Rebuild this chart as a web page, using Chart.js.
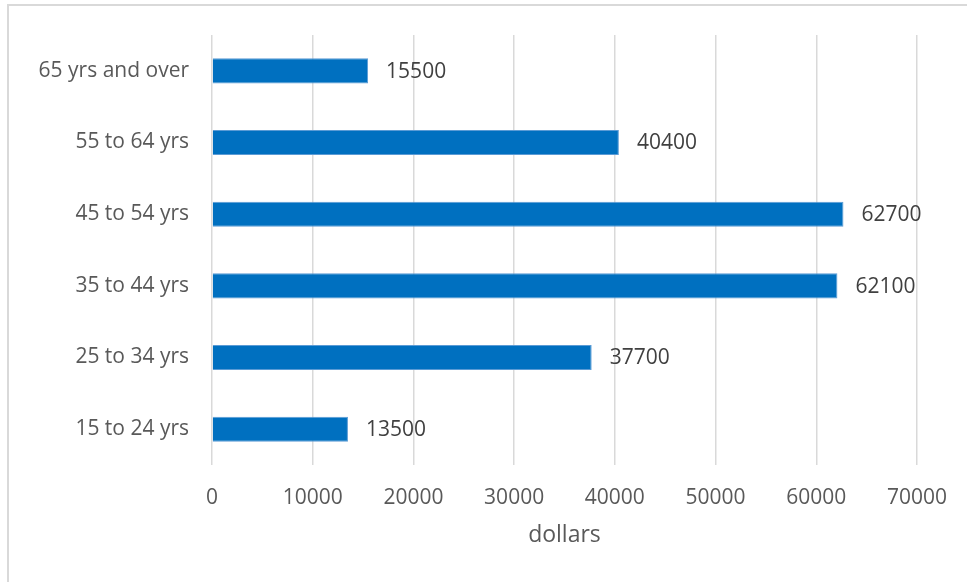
<!DOCTYPE html>
<html>
<head>
<meta charset="utf-8">
<script src="https://cdn.jsdelivr.net/npm/chart.js@4"></script>
<style>
  html, body { margin: 0; padding: 0; background: #fff; overflow: hidden; }
  #wrap { position: relative; width: 967px; height: 582px; }
  #frame {
    position: absolute; left: 7px; top: 4px; width: 1000px; height: 620px;
    border: 2px solid #d9d9d9; box-sizing: border-box; pointer-events: none;
  }
  canvas { position: absolute; left: 0; top: 0; }
</style>
</head>
<body>
<div id="wrap">
  <canvas id="earnings" width="967" height="582"></canvas>
  <div id="frame"></div>
</div>
<script>
// median earnings by age group, in dollars (top row first)
const ageGroups = ['65 yrs and over', '55 to 64 yrs', '45 to 54 yrs', '35 to 44 yrs', '25 to 34 yrs', '15 to 24 yrs'];
const earnings = [15500, 40400, 62700, 62100, 37700, 13500];
const xTicks = [0, 10000, 20000, 30000, 40000, 50000, 60000, 70000];

const FONT = "'Open Sans', 'Liberation Sans', sans-serif";

// writes each bar's value just past its end
const valueLabels = {
  id: 'valueLabels',
  afterDatasetsDraw(chart) {
    const ctx = chart.ctx;
    const meta = chart.getDatasetMeta(0);
    ctx.save();
    ctx.font = '21px ' + FONT;
    ctx.fillStyle = '#404040';
    ctx.textAlign = 'left';
    ctx.textBaseline = 'middle';
    meta.data.forEach((bar, i) => {
      ctx.fillText(String(earnings[i]), bar.x + 18, bar.y + 1);
    });
    ctx.restore();
  }
};

new Chart(document.getElementById('earnings'), {
  type: 'bar',
  data: {
    labels: ageGroups,
    datasets: [{
      data: earnings,
      backgroundColor: '#0070c0',
      borderColor: '#5b9bd5',
      borderWidth: 1,
      categoryPercentage: 1,
      barPercentage: 0.35
    }]
  },
  options: {
    indexAxis: 'y',
    responsive: false,
    animation: false,
    layout: { padding: { left: 0, right: 48, top: 35, bottom: 0 } },
    plugins: { legend: { display: false }, tooltip: { enabled: false } },
    scales: {
      x: {
        min: 0,
        max: 70000,
        afterBuildTicks(scale) { scale.ticks = xTicks.map(v => ({ value: v })); },
        afterFit(scale) { scale.height = 117; },
        grid: { color: '#d9d9d9', lineWidth: 1.5, drawTicks: false },
        border: { display: false },
        ticks: {
          padding: 20,
          color: '#595959',
          font: { family: FONT, size: 21 },
          maxRotation: 0,
          callback: v => String(v)
        },
        title: {
          display: true,
          text: 'dollars',
          color: '#595959',
          font: { family: FONT, size: 23 },
          padding: { top: 0, bottom: 33 }
        }
      },
      y: {
        afterFit(scale) { scale.width = 212; },
        grid: { display: false },
        border: { display: false },
        ticks: {
          padding: 15,
          color: '#595959',
          font: { family: FONT, size: 21 }
        }
      }
    }
  },
  plugins: [valueLabels]
});
</script>
</body>
</html>
